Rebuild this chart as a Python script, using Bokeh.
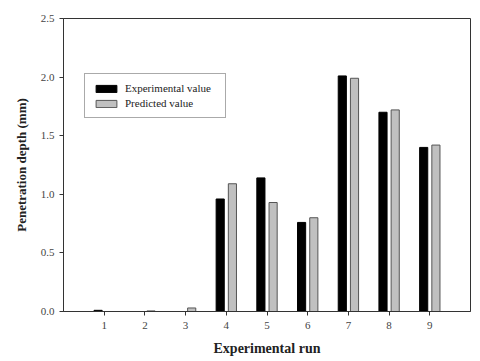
from bokeh.plotting import figure
from bokeh.models import Range1d, FixedTicker, NumeralTickFormatter, Legend, LegendItem
from bokeh.embed import file_html
from bokeh.resources import INLINE

runs = [1, 2, 3, 4, 5, 6, 7, 8, 9]
experimental = [0.01, 0.0, 0.0, 0.96, 1.14, 0.76, 2.01, 1.70, 1.40]
predicted = [0.0, 0.005, 0.03, 1.09, 0.93, 0.80, 1.99, 1.72, 1.42]
y_ticks = [0.0, 0.5, 1.0, 1.5, 2.0, 2.5]

SERIF = "Liberation Serif"

p = figure(width=480, height=361, output_backend="svg", toolbar_location=None,
           x_range=Range1d(0, 10), y_range=Range1d(0, 2.5),
           min_border_left=63, min_border_right=10, min_border_top=18, min_border_bottom=50)

p.xgrid.visible = False
p.ygrid.visible = False
p.outline_line_color = "#333333"
p.outline_line_width = 1

x_exp = [r - 0.15 for r in runs]
x_pred = [r + 0.15 for r in runs]
r1 = p.vbar(x=x_exp, top=experimental, width=0.2, fill_color="black", line_color="black")
r2 = p.vbar(x=x_pred, top=predicted, width=0.2, fill_color="#c0c0c0", line_color="#555555")

p.xaxis.ticker = FixedTicker(ticks=runs)
p.yaxis.ticker = FixedTicker(ticks=y_ticks)
p.yaxis.formatter = NumeralTickFormatter(format="0.0")
for ax in (p.xaxis, p.yaxis):
    ax.axis_line_color = "#333333"
    ax.major_tick_line_color = "#333333"
    ax.major_tick_out = 4
    ax.major_tick_in = 0
    ax.minor_tick_line_color = None
    ax.major_label_text_font = SERIF
    ax.major_label_text_font_size = "11px"
    ax.major_label_text_color = "#444444"
    ax.axis_label_text_font = SERIF
    ax.axis_label_text_font_style = "bold"
    ax.axis_label_text_color = "#222222"

p.xaxis.axis_label = "Experimental run"
p.xaxis.axis_label_text_font_size = "14px"
p.xaxis.axis_label_standoff = 9
p.xaxis.major_label_standoff = 6
p.yaxis.axis_label = "Penetration depth (mm)"
p.yaxis.axis_label_text_font_size = "13px"
p.yaxis.axis_label_standoff = 9

legend = Legend(items=[LegendItem(label="Experimental value", renderers=[r1]),
                       LegendItem(label="Predicted value", renderers=[r2])],
                location=(21, 193))
legend.label_text_font = SERIF
legend.label_text_font_size = "11px"
legend.label_text_color = "#222222"
legend.glyph_width = 26
legend.glyph_height = 9
legend.label_height = 12
legend.label_width = 92
legend.spacing = 3
legend.padding = 8
legend.margin = 0
legend.label_standoff = 6
legend.border_line_color = "#555555"
legend.border_line_width = 1
legend.background_fill_alpha = 1
p.add_layout(legend)

open("out.html", "w").write(file_html(p, INLINE))
